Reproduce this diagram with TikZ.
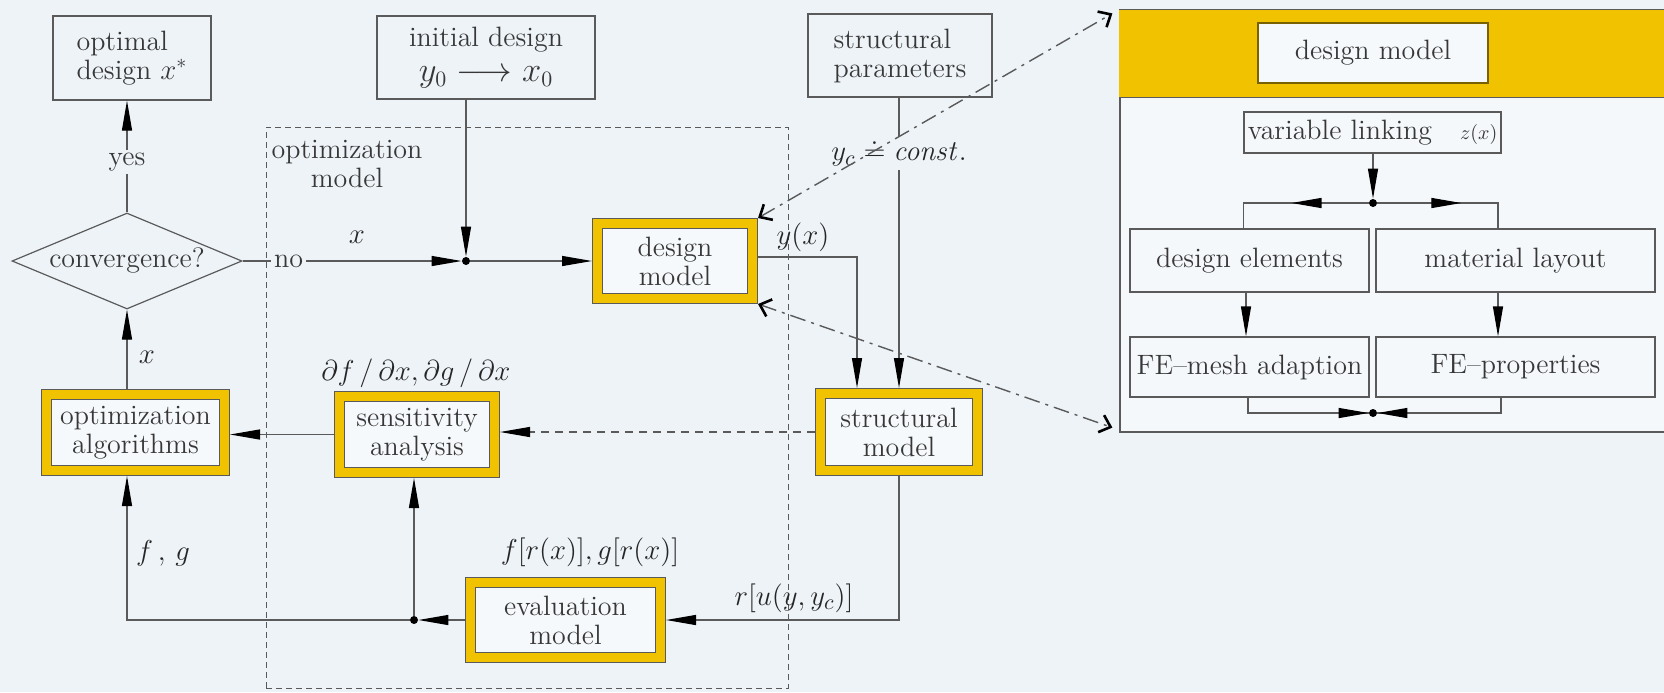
\documentclass[tikz,border=0pt]{standalone}
\usepackage{amsmath}
\usetikzlibrary{arrows.meta,shapes.geometric,calc}
\definecolor{bg}{RGB}{238,243,248}
\definecolor{ygold}{RGB}{240,194,0}
\definecolor{lineC}{RGB}{90,90,90}
\definecolor{textC}{RGB}{55,55,55}
\begin{document}
\begin{tikzpicture}[x=0.5pt,y=-0.5pt,
  txt/.style={font=\fontsize{14}{14.5}\selectfont, text=textC},
  mth/.style={font=\fontsize{15}{16}\selectfont, text=black!85},
  plainbox/.style={txt, draw=lineC, line width=0.6pt, fill=bg, inner sep=0pt, align=center},
  ybox/.style={txt, draw=lineC, line width=0.45pt, double=ygold, double distance=4.6pt, fill=white!50!bg, inner sep=0pt, outer sep=2.75pt, align=center},
  ln/.style={draw=lineC, line width=0.6pt},
  arr/.style={ln, -{Triangle[length=15pt,width=5pt,color=black]}},
  ddarr/.style={draw=lineC, line width=0.7pt, dash pattern=on 8pt off 3pt on 1.5pt off 3pt,
     {Straight Barb[length=5pt,width=9pt,line width=1.3pt,color=black]}-{Straight Barb[length=5pt,width=9pt,line width=1.3pt,color=black]}},
  jdot/.style={circle, fill=black, inner sep=0pt, minimum size=4pt},
  lab/.style={txt, fill=bg, inner sep=1.5pt},
]
\fill[bg] (0,0) rectangle (1664,692);
\useasboundingbox (0,0) rectangle (1664,692);
\clip (0,0) rectangle (1664,692);

% optimization model dashed frame
\node[draw=lineC, dash pattern=on 3pt off 2pt, line width=0.5pt, minimum width=261pt, minimum height=280.5pt, inner sep=0pt] (optm) at (527,407.5) {};
\node[txt, align=center] (optmlab) at (347,164) {optimization\\model};

% top boxes
\node[plainbox, minimum width=79pt, minimum height=42pt, align=left] (optdes) at (132,58) {optimal\\design $x^{*}$};
\node[plainbox, minimum width=109pt, minimum height=41.5pt] (init) at (486,57.5) {initial design\\[3pt]{\fontsize{16}{16}\selectfont$y_0 \longrightarrow x_0$}};
\node[plainbox, minimum width=92pt, minimum height=41.5pt, align=left] (sp) at (900,55.5) {structural\\parameters};

% decision
\node[diamond, draw=lineC, line width=0.6pt, fill=bg, minimum width=115pt, minimum height=48pt, inner sep=0pt] (conv) at (127,261) {};
\node[txt] (convt) at (conv.center) {convergence?};

% yellow boxes
\node[ybox, minimum width=77.5pt, minimum height=37.5pt] (dm) at (675,261) {design\\model};
\node[ybox, minimum width=89pt, minimum height=38pt] (oa) at (135.5,432.5) {optimization\\algorithms};
\node[ybox, minimum width=77.5pt, minimum height=38pt] (sa) at (417,434.5) {sensitivity\\analysis};
\node[ybox, minimum width=95pt, minimum height=37.5pt] (ev) at (565.5,620) {evaluation\\model};
\node[ybox, minimum width=78.5pt, minimum height=38.5pt] (sm) at (899,432) {structural\\model};

% junction dots
\node[jdot] (d1) at (466,261) {};
\node[jdot] (d4) at (414,620) {};

% connectors main diagram
\draw[arr] (conv.east) -- node[lab, pos=0.21] (lno) {no} (d1);
\node[mth] (lx1) at (357,237) {$x$};
\draw[arr] (init.south -| d1) -- (d1);
\draw[arr] (d1) -- (dm.west);
\draw[arr] ([yshift=2pt]dm.east) -| ([xshift=-21pt]sm.north);
\node[mth] (lyx) at (803,237) {$y(x)$};
\draw[arr] (sp.south -| sm.north) -- node[lab, mth, pos=0.19] (lyc) {$y_c \doteq \mathit{const.}$} (sm.north);
\draw[arr, dash pattern=on 4pt off 3pt] (sm.west) -- (sm.west -| sa.east);
\draw[arr] (sa.west) -- (sa.west -| oa.east);
\node[mth] (lder) at (416,373) {$\partial f\,/\,\partial x,\partial g\,/\,\partial x$};
\draw[arr] (oa.north -| conv.south) -- (conv.south);
\node[mth] (lx2) at (147,357) {$x$};
\draw[arr] (conv.north) -- node[lab, pos=0.45] (lyes) {yes} (optdes.south -| conv.north);
\draw[arr] (sm.south) |- (ev.east);
\node[mth] (lr) at (794,598) {$r[u(y,y_c)]$};
\draw[arr] (ev.west) -- (d4);
\draw[arr] (d4) -- (d4 |- sa.south);
\draw[arr] (d4) -| (oa.south -| conv.south);
\node[mth] (lfg) at (163,553) {$f\,,\,g$};
\node[mth] (lfr) at (590,552) {$f[r(x)],g[r(x)]$};

% detail panel
\node[draw=lineC, line width=0.6pt, fill=white!40!bg, minimum width=290pt, minimum height=211pt, inner sep=0pt] (panel) at (1410,221) {};
\fill[ygold] (panel.north west) rectangle ([yshift=-44pt]panel.north east);
\draw[lineC, line width=0.6pt] (panel.north west) -- (panel.north east);
\draw[lineC, line width=0.6pt] ([yshift=-44pt]panel.north west) -- ([yshift=-44pt]panel.north east);
\node[plainbox, fill=white!50!bg, draw=ygold!50!black, minimum width=115pt, minimum height=30pt] (hdm) at (1373,53) {design model};
\node[plainbox, fill=white!40!bg, minimum width=128.5pt, minimum height=20.5pt] (vl) at (1372.5,132.5) {variable linking\quad{\fontsize{10}{10}\selectfont$z(x)$}};
\node[plainbox, fill=white!40!bg, minimum width=119.5pt, minimum height=31.5pt] (de) at (1249.5,260.5) {design elements};
\node[plainbox, fill=white!40!bg, minimum width=139.5pt, minimum height=31.5pt] (ml) at (1515.5,260.5) {material layout};
\node[plainbox, fill=white!40!bg, minimum width=119.5pt, minimum height=30pt] (fm) at (1249.5,367) {FE--mesh adaption};
\node[plainbox, fill=white!40!bg, minimum width=139.5pt, minimum height=30pt] (fp) at (1515.5,367) {FE--properties};
\node[jdot] (d2) at (1373,203) {};
\node[jdot] (d3) at (1373,413) {};

\draw[arr] (vl.south -| d2) -- (d2);
\draw[ln] (d2) -| ([xshift=-3pt]de.north);
\draw[ln] (d2) -| ([xshift=-8.75pt]ml.north);
\draw[arr] (d2) -- ($(d2)!0.66!(d2 -| de.north)$);
\draw[arr] (d2) -- ($(d2)!0.62!(d2 -| ml.north)$);
\draw[arr] ([xshift=-1.75pt]de.south) -- ([xshift=-1.75pt]fm.north);
\draw[arr] ([xshift=-8.75pt]ml.south) -- ([xshift=-8.75pt]fp.north);
\draw[ln] ([xshift=-0.75pt]fm.south) |- (d3);
\draw[ln] ([xshift=-7.25pt]fp.south) |- (d3);
\draw[arr] ($(d3)+(-50,0)$) -- (d3);
\draw[arr] ($(d3)+(50,0)$) -- (d3);

% links between design model and detail panel
\draw[ddarr] (dm.north east) -- ([xshift=-3.5pt,yshift=-2pt]panel.north west);
\draw[ddarr] (dm.south east) -- ([xshift=-3.5pt,yshift=2.5pt]panel.south west);
\end{tikzpicture}
\end{document}
